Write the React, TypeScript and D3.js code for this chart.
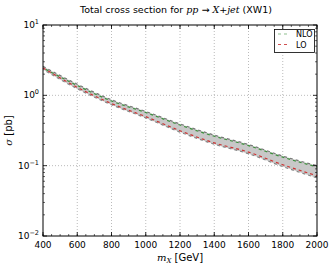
import React from 'react'
import * as d3 from 'd3'

// values
const mass = [400, 600, 800, 1000, 1200, 1400, 1600, 1800, 2000]
const nlo = [2.45, 1.38, 0.83, 0.57, 0.378, 0.262, 0.193, 0.132, 0.096]
const lo = [2.45, 1.3, 0.764, 0.498, 0.314, 0.211, 0.156, 0.103, 0.072]
const bandUp = [2.58, 1.44, 0.865, 0.59, 0.392, 0.272, 0.2, 0.137, 0.1]
const bandLow = [2.33, 1.24, 0.735, 0.478, 0.3, 0.202, 0.148, 0.097, 0.067]
const xTicks = [400, 600, 800, 1000, 1200, 1400, 1600, 1800, 2000]
const yExps = [1, 0, -1, -2]

const W = 332
const H = 267
const m = { l: 43, r: 15, t: 25, b: 31 }

export default function App() {
  const x = d3.scaleLinear().domain([400, 2000]).range([m.l, W - m.r])
  const y = d3.scaleLog().domain([0.01, 10]).range([H - m.b, m.t])

  const rows = mass.map((k, i) => ({ k, nlo: nlo[i], lo: lo[i], up: bandUp[i], low: bandLow[i] }))
  const curve = d3.curveMonotoneX

  const area = d3.area<any>()
    .x(d => x(d.k))
    .y0(d => y(d.low))
    .y1(d => y(d.up))
    .curve(curve)
  const line = (key: string) => d3.line<any>()
    .x(d => x(d.k))
    .y(d => y(d[key]))
    .curve(curve)(rows) as string

  const xMinor = d3.range(400, 2001, 50)
  const yMinor: number[] = []
  for (let e = -2; e < 1; e++) for (let j = 2; j < 10; j++) yMinor.push(j * Math.pow(10, e))

  const x0 = m.l, x1 = W - m.r, y0 = m.t, y1 = H - m.b
  const font = 'DejaVu Sans, sans-serif'

  return (
    <svg width={W} height={H} style={{ position: 'absolute', left: 0, top: 0, background: '#fff' }} fontFamily={font}>
      <rect x={0} y={0} width={W} height={H} fill="#fff" />
      {/* grid */}
      {xTicks.slice(1, -1).map(t => (
        <line key={'gx' + t} x1={x(t)} x2={x(t)} y1={y0} y2={y1} stroke="#aaa" strokeWidth={0.8} strokeDasharray="1,2" />
      ))}
      {yExps.slice(1, -1).map(e => (
        <line key={'gy' + e} x1={x0} x2={x1} y1={y(Math.pow(10, e))} y2={y(Math.pow(10, e))} stroke="#aaa" strokeWidth={0.8} strokeDasharray="1,2" />
      ))}

      {/* band and curves */}
      <path d={area(rows) as string} fill="#c8c8c8" />
      <path d={line('up')} fill="none" stroke="#777" strokeWidth={1.2} strokeDasharray="3,3" />
      <path d={line('low')} fill="none" stroke="#888" strokeWidth={1.2} strokeDasharray="3,3" strokeDashoffset={2} />
      <path d={line('nlo')} fill="none" stroke="#3c8f3c" strokeWidth={1.2} strokeDasharray="3,3" strokeDashoffset={3} />
      <path d={line('lo')} fill="none" stroke="#cc3333" strokeWidth={1.2} strokeDasharray="3,3" />

      {/* ticks */}
      {xTicks.map(t => (
        <g key={'tx' + t}>
          <line x1={x(t)} x2={x(t)} y1={y1} y2={y1 - 4} stroke="#000" strokeWidth={0.8} />
          <line x1={x(t)} x2={x(t)} y1={y0} y2={y0 + 4} stroke="#000" strokeWidth={0.8} />
          <text x={x(t)} y={y1 + 12} fontSize={9} textAnchor="middle">{t}</text>
        </g>
      ))}
      {xMinor.map(t => (
        <g key={'mx' + t}>
          <line x1={x(t)} x2={x(t)} y1={y1} y2={y1 - 2} stroke="#000" strokeWidth={0.6} />
          <line x1={x(t)} x2={x(t)} y1={y0} y2={y0 + 2} stroke="#000" strokeWidth={0.6} />
        </g>
      ))}
      {yExps.map(e => (
        <g key={'ty' + e}>
          <line x1={x0} x2={x0 + 4} y1={y(Math.pow(10, e))} y2={y(Math.pow(10, e))} stroke="#000" strokeWidth={0.8} />
          <line x1={x1} x2={x1 - 4} y1={y(Math.pow(10, e))} y2={y(Math.pow(10, e))} stroke="#000" strokeWidth={0.8} />
          <text x={x0 - 4} y={y(Math.pow(10, e)) + 3} fontSize={9} textAnchor="end">
            10<tspan dy={-4} fontSize={6.5}>{e < 0 ? '\u2212' + -e : e}</tspan>
          </text>
        </g>
      ))}
      {yMinor.map(v => (
        <g key={'my' + v}>
          <line x1={x0} x2={x0 + 2} y1={y(v)} y2={y(v)} stroke="#000" strokeWidth={0.6} />
          <line x1={x1} x2={x1 - 2} y1={y(v)} y2={y(v)} stroke="#000" strokeWidth={0.6} />
        </g>
      ))}

      {/* frame */}
      <rect x={x0} y={y0} width={x1 - x0} height={y1 - y0} fill="none" stroke="#000" strokeWidth={1} />

      {/* legend */}
      <rect x={274.5} y={29.5} width={40} height={23} fill="#fff" stroke="#000" strokeWidth={0.8} />
      <line x1={278} x2={289} y1={34} y2={34} stroke="#8fc08f" strokeWidth={1.2} strokeDasharray="3,3" />
      <text x={296} y={37} fontSize={8}>NLO</text>
      <line x1={278} x2={289} y1={44.5} y2={44.5} stroke="#d05050" strokeWidth={1.2} strokeDasharray="3,3" />
      <text x={296} y={47.5} fontSize={8}>LO</text>

      {/* title and labels */}
      <text x={176} y={13} fontSize={9.5} textAnchor="middle">
        Total cross section for{' '}
        <tspan fontFamily="DejaVu Serif, serif" fontStyle="italic">pp</tspan>
        <tspan> {'\u2192'} </tspan>
        <tspan fontFamily="DejaVu Serif, serif" fontStyle="italic">X</tspan>
        <tspan>+</tspan>
        <tspan fontFamily="DejaVu Serif, serif" fontStyle="italic">jet</tspan>
        <tspan> (XW1)</tspan>
      </text>
      <text x={(x0 + x1) / 2} y={261} fontSize={10} textAnchor="middle">
        <tspan fontFamily="DejaVu Serif, serif" fontStyle="italic">m</tspan>
        <tspan fontFamily="DejaVu Serif, serif" fontStyle="italic" fontSize={7} dy={2}>X</tspan>
        <tspan dy={-2}> [GeV]</tspan>
      </text>
      <text transform={`translate(12,${(y0 + y1) / 2}) rotate(-90)`} fontSize={10} textAnchor="middle">
        <tspan fontFamily="DejaVu Serif, serif" fontStyle="italic">{'\u03c3'}</tspan>
        <tspan> [pb]</tspan>
      </text>
    </svg>
  )
}
